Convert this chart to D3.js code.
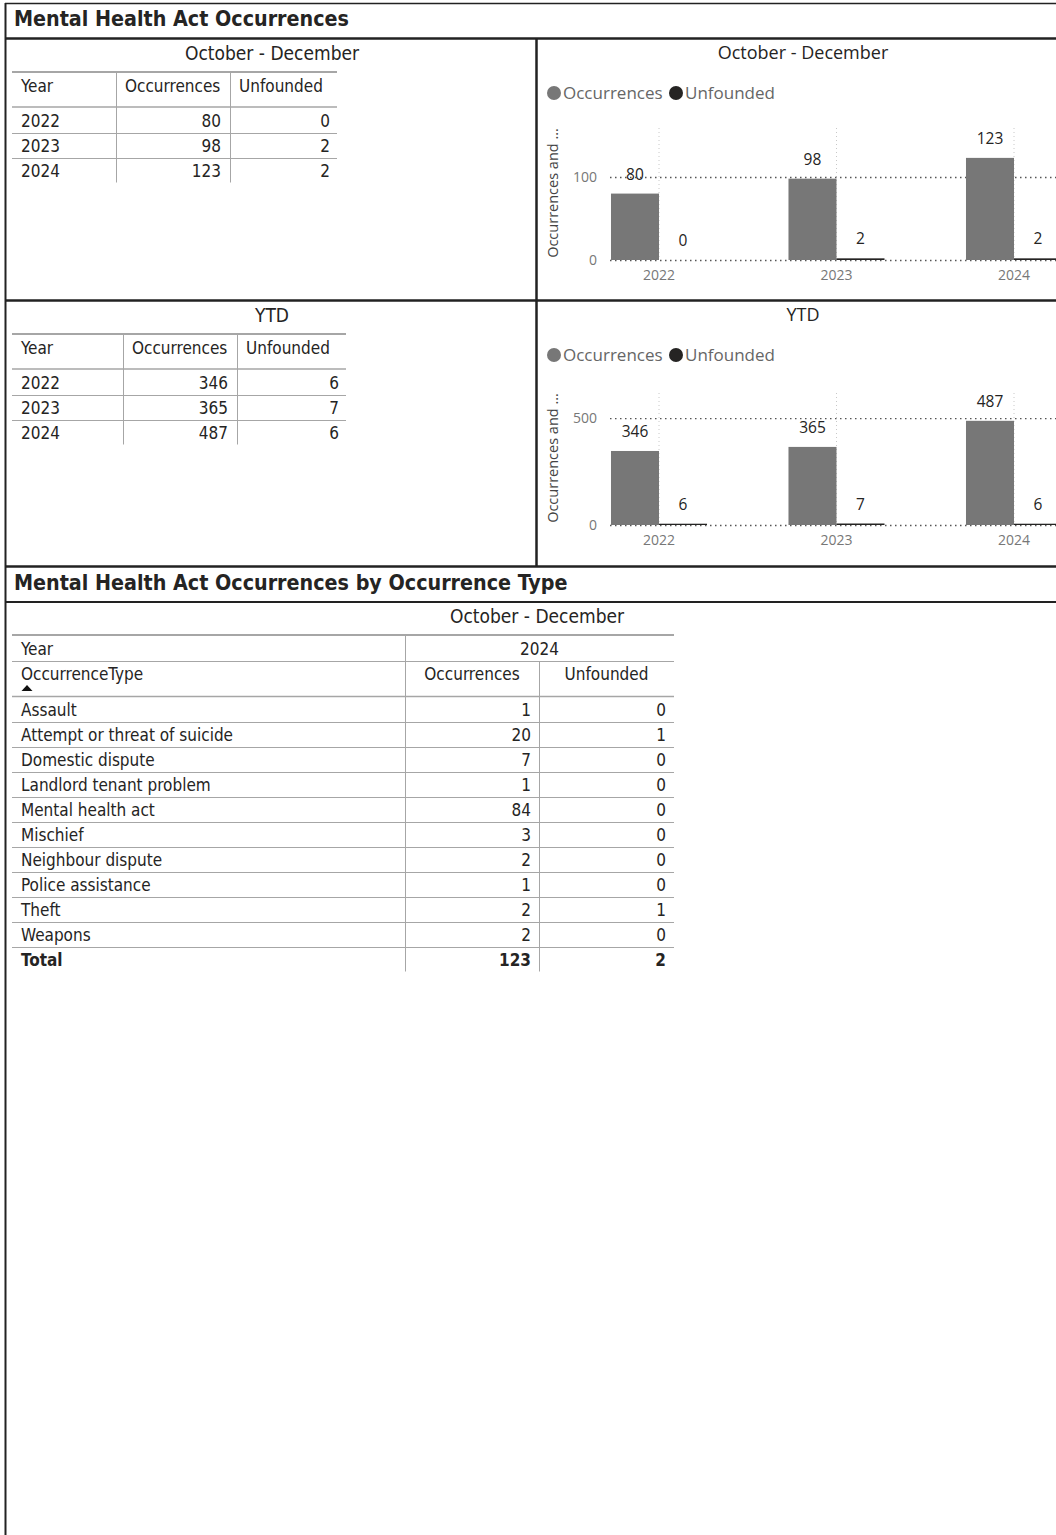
<!DOCTYPE html>
<html>
<head>
<meta charset="utf-8">
<script src="https://cdn.jsdelivr.net/npm/d3@7"></script>
<style>
  body { margin: 0; background: #fff; }
  svg { display: block; }
  .tbl { font-family: "DejaVu Sans Condensed", "Liberation Sans", sans-serif; fill: #252423; }
  .viz { font-family: "Open Sans", "Noto Sans", sans-serif; }
</style>
</head>
<body>
<div id="chart"></div>
<script>
const years = ["2022", "2023", "2024"];
const quarterOcc = [80, 98, 123];
const quarterUnf = [0, 2, 2];
const ytdOcc = [346, 365, 487];
const ytdUnf = [6, 7, 6];
const seriesNames = ["Occurrences", "Unfounded"];
const quarterTicks = [0, 100];
const ytdTicks = [0, 500];

const types = ["Assault", "Attempt or threat of suicide", "Domestic dispute", "Landlord tenant problem",
  "Mental health act", "Mischief", "Neighbour dispute", "Police assistance", "Theft", "Weapons"];
const typeOcc = [1, 20, 7, 1, 84, 3, 2, 1, 2, 2];
const typeUnf = [0, 1, 0, 0, 0, 0, 0, 0, 1, 0];

const w = 1056;
const h = 1535;
const ink = "#252423";
const occColor = "#777777";
const unfColor = "#252423";
const lineGray = "#a6a6a6";

const svg = d3.select('#chart')
  .append('svg')
  .attr('width', w)
  .attr('height', h);

// frame and panel borders
const frame = svg.append('g').attr('stroke', '#222').attr('fill', 'none');
frame.append('line').attr('x1', 5).attr('x2', w).attr('y1', 3.5).attr('y2', 3.5).attr('stroke-width', 1.5);
frame.append('line').attr('x1', 5.5).attr('x2', 5.5).attr('y1', 3).attr('y2', h).attr('stroke-width', 2);
frame.append('line').attr('x1', 5).attr('x2', w).attr('y1', 38.5).attr('y2', 38.5).attr('stroke-width', 2.5);
frame.append('line').attr('x1', 536.5).attr('x2', 536.5).attr('y1', 38).attr('y2', 566).attr('stroke-width', 2.5);
frame.append('line').attr('x1', 5).attr('x2', w).attr('y1', 300.5).attr('y2', 300.5).attr('stroke-width', 2.5);
frame.append('line').attr('x1', 5).attr('x2', w).attr('y1', 566.5).attr('y2', 566.5).attr('stroke-width', 2.5);
frame.append('line').attr('x1', 5).attr('x2', w).attr('y1', 602).attr('y2', 602).attr('stroke-width', 2);

svg.append('text').attr('class', 'tbl')
  .attr('x', 14).attr('y', 26)
  .attr('font-size', 21.3).attr('font-weight', 'bold')
  .attr('fill', '#2a2a2a')
  .text('Mental Health Act Occurrences');
svg.append('text').attr('class', 'tbl')
  .attr('x', 14).attr('y', 590)
  .attr('font-size', 21.3).attr('font-weight', 'bold')
  .attr('fill', '#2a2a2a')
  .text('Mental Health Act Occurrences by Occurrence Type');

// simple year table
function yearTable(cfg) {
  const g = svg.append('g').attr('class', 'tbl');
  const edges = cfg.edges;
  g.append('text').attr('x', cfg.titleX).attr('y', cfg.top - 12)
    .attr('text-anchor', 'middle').attr('font-size', 19).text(cfg.title);
  g.append('line').attr('x1', edges[0]).attr('x2', edges[3])
    .attr('y1', cfg.top).attr('y2', cfg.top).attr('stroke', lineGray).attr('stroke-width', 2);
  const headY = cfg.top + 20;
  const heads = ["Year"].concat(seriesNames);
  heads.forEach((t, i) => {
    g.append('text').attr('x', edges[i] + 9).attr('y', headY)
      .attr('font-size', 17).text(t);
  });
  const headBottom = cfg.top + 35;
  g.append('line').attr('x1', edges[0]).attr('x2', edges[3])
    .attr('y1', headBottom).attr('y2', headBottom).attr('stroke', lineGray).attr('stroke-width', 1.5);

  const rows = d3.scaleBand().domain(years).range([headBottom + 1.5, headBottom + 1.5 + 25 * years.length]);
  [1, 2].forEach(i => {
    g.append('line').attr('x1', edges[i] + 0.5).attr('x2', edges[i] + 0.5)
      .attr('y1', cfg.top).attr('y2', rows.range()[1] - 1).attr('stroke', lineGray);
  });
  years.forEach((y, i) => {
    const cy = rows(y) + rows.bandwidth() / 2;
    if (i < years.length - 1) {
      g.append('line').attr('x1', edges[0]).attr('x2', edges[3])
        .attr('y1', rows(y) + rows.bandwidth()).attr('y2', rows(y) + rows.bandwidth())
        .attr('stroke', lineGray);
    }
    g.append('text').attr('x', edges[0] + 9).attr('y', cy + 6).attr('font-size', 17).text(y);
    g.append('text').attr('x', edges[2] - 9).attr('y', cy + 6).attr('font-size', 17)
      .attr('text-anchor', 'end').text(cfg.occ[i]);
    g.append('text').attr('x', edges[3] - 7).attr('y', cy + 6).attr('font-size', 17)
      .attr('text-anchor', 'end').text(cfg.unf[i]);
  });
}

yearTable({ title: 'October - December', titleX: 272, top: 72, edges: [12, 116, 230, 337], occ: quarterOcc, unf: quarterUnf });
yearTable({ title: 'YTD', titleX: 272, top: 334, edges: [12, 123, 237, 346], occ: ytdOcc, unf: ytdUnf });

// clustered column chart
function barChart(cfg) {
  const g = svg.append('g').attr('class', 'viz');
  g.append('text').attr('x', 803).attr('y', cfg.top + 27)
    .attr('text-anchor', 'middle').attr('font-size', 18).attr('fill', ink).text(cfg.title);

  // legend
  const legX = [554, 676];
  seriesNames.forEach((s, i) => {
    g.append('circle').attr('cx', legX[i]).attr('cy', cfg.top + 61).attr('r', 7)
      .attr('fill', i === 0 ? occColor : unfColor);
    g.append('text').attr('x', legX[i] + 9).attr('y', cfg.top + 67)
      .attr('font-size', 17).attr('fill', '#666').text(s);
  });

  const x = d3.scaleBand().domain(years)
    .range([570.25, 570.25 + 177.5 * years.length])
    .paddingInner(0.459).paddingOuter(0.2295);
  const xSub = d3.scaleBand().domain(seriesNames).range([0, x.bandwidth()]);
  const y = d3.scaleLinear().domain([0, cfg.max]).range([cfg.base, cfg.base - 132]);

  // gridlines
  years.forEach(yr => {
    const cx = x(yr) + x.bandwidth() / 2;
    g.append('line').attr('x1', cx).attr('x2', cx).attr('y1', y(cfg.max)).attr('y2', y(0))
      .attr('stroke', '#c8c8c8').attr('stroke-dasharray', '1,3');
  });
  cfg.ticks.forEach(t => {
    g.append('line').attr('x1', 610).attr('x2', w).attr('y1', y(t) + 0.5).attr('y2', y(t) + 0.5)
      .attr('stroke', '#555').attr('stroke-width', 1.3).attr('stroke-dasharray', '1.5,3.5');
  });

  const yAxis = d3.axisLeft(y).tickValues(cfg.ticks).tickSize(0).tickPadding(0);
  const ya = g.append('g').attr('transform', 'translate(597,0)').call(yAxis);
  ya.select('.domain').remove();
  ya.selectAll('text').attr('font-family', '"Open Sans", sans-serif').attr('font-size', 14).attr('fill', '#777');

  const xAxis = d3.axisBottom(x).tickSize(0).tickPadding(10);
  const xa = g.append('g').attr('transform', `translate(0,${cfg.base})`).call(xAxis);
  xa.select('.domain').remove();
  xa.selectAll('text').attr('font-family', '"Open Sans", sans-serif').attr('font-size', 14).attr('fill', '#777');

  g.append('text').attr('transform', `translate(558,${cfg.base - 67}) rotate(-90)`)
    .attr('text-anchor', 'middle').attr('font-size', 14.5).attr('fill', '#444')
    .text('Occurrences and ...');

  const rows = years.map((yr, i) => ({ yr, vals: [cfg.occ[i], cfg.unf[i]] }));
  const grp = g.selectAll('.grp').data(rows).enter().append('g')
    .attr('transform', d => `translate(${x(d.yr)},0)`);
  grp.selectAll('rect')
    .data(d => d.vals.map((v, j) => ({ key: seriesNames[j], v })))
    .enter().append('rect')
    .attr('x', d => xSub(d.key))
    .attr('y', d => y(d.v))
    .attr('width', xSub.bandwidth())
    .attr('height', d => y(0) - y(d.v))
    .attr('fill', d => d.key === 'Occurrences' ? occColor : unfColor);
  grp.selectAll('.lbl')
    .data(d => d.vals.map((v, j) => ({ key: seriesNames[j], v })))
    .enter().append('text')
    .attr('x', d => xSub(d.key) + xSub.bandwidth() / 2)
    .attr('y', d => y(d.v) - 14)
    .attr('text-anchor', 'middle').attr('font-size', 15.5).attr('fill', ink)
    .text(d => d.v);
}

barChart({ title: 'October - December', top: 32, base: 260, max: 159, ticks: quarterTicks, occ: quarterOcc, unf: quarterUnf });
barChart({ title: 'YTD', top: 294, base: 525, max: 617, ticks: ytdTicks, occ: ytdOcc, unf: ytdUnf });

// occurrence type matrix
const mg = svg.append('g').attr('class', 'tbl');
const me = [12, 405, 539, 674];
mg.append('text').attr('x', 537).attr('y', 623).attr('text-anchor', 'middle').attr('font-size', 19)
  .text('October - December');
mg.append('line').attr('x1', me[0]).attr('x2', me[3]).attr('y1', 635).attr('y2', 635)
  .attr('stroke', lineGray).attr('stroke-width', 2);
mg.append('text').attr('x', 21).attr('y', 655).attr('font-size', 17).text('Year');
mg.append('text').attr('x', (me[1] + me[3]) / 2).attr('y', 655).attr('font-size', 17)
  .attr('text-anchor', 'middle').text(years[2]);
mg.append('line').attr('x1', me[0]).attr('x2', me[3]).attr('y1', 661.5).attr('y2', 661.5).attr('stroke', lineGray);
mg.append('text').attr('x', 21).attr('y', 680).attr('font-size', 17).text('OccurrenceType');
mg.append('path').attr('d', 'M21.5,691 L27,685 L32.5,691 Z').attr('fill', '#111');
seriesNames.forEach((s, i) => {
  mg.append('text').attr('x', (me[i + 1] + me[i + 2]) / 2).attr('y', 680).attr('font-size', 17)
    .attr('text-anchor', 'middle').text(s);
});
mg.append('line').attr('x1', me[0]).attr('x2', me[3]).attr('y1', 696.5).attr('y2', 696.5)
  .attr('stroke', lineGray).attr('stroke-width', 1.5);

const allRows = types.map((t, i) => ({ t, occ: typeOcc[i], unf: typeUnf[i], total: false }))
  .concat([{ t: 'Total', occ: d3.sum(typeOcc), unf: d3.sum(typeUnf), total: true }]);
const ry = d3.scaleBand().domain(d3.range(allRows.length)).range([697.5, 697.5 + 25 * allRows.length]);

mg.append('line').attr('x1', me[1] + 0.5).attr('x2', me[1] + 0.5).attr('y1', 635).attr('y2', ry.range()[1] - 1).attr('stroke', lineGray);
mg.append('line').attr('x1', me[2] + 0.5).attr('x2', me[2] + 0.5).attr('y1', 661).attr('y2', ry.range()[1] - 1).attr('stroke', lineGray);

allRows.forEach((r, i) => {
  const cy = ry(i) + ry.bandwidth() / 2;
  if (i < allRows.length - 1) {
    mg.append('line').attr('x1', me[0]).attr('x2', me[3])
      .attr('y1', ry(i) + ry.bandwidth()).attr('y2', ry(i) + ry.bandwidth()).attr('stroke', lineGray);
  }
  const fw = r.total ? 'bold' : 'normal';
  mg.append('text').attr('x', 21).attr('y', cy + 6).attr('font-size', 17).attr('font-weight', fw).text(r.t);
  mg.append('text').attr('x', me[2] - 8).attr('y', cy + 6).attr('font-size', 17).attr('font-weight', fw)
    .attr('text-anchor', 'end').text(r.occ);
  mg.append('text').attr('x', me[3] - 8).attr('y', cy + 6).attr('font-size', 17).attr('font-weight', fw)
    .attr('text-anchor', 'end').text(r.unf);
});
</script>
</body>
</html>
